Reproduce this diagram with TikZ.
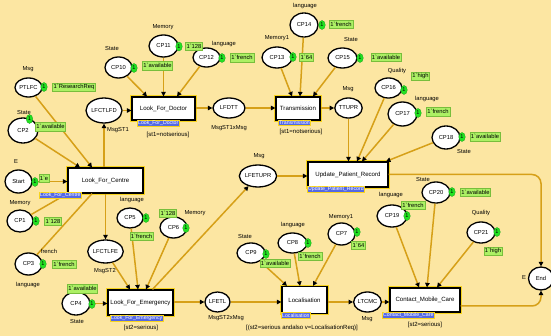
\documentclass[tikz,border=0pt]{standalone}
\usepackage{fontspec}
\setmainfont{Liberation Sans}
\usetikzlibrary{shapes.geometric,arrows.meta}
\definecolor{bgc}{RGB}{252,230,162}
\definecolor{arcc}{RGB}{214,160,24}
\definecolor{hlc}{RGB}{248,212,30}
\definecolor{tagc}{RGB}{84,104,228}
\definecolor{tokc}{RGB}{34,226,34}
\definecolor{tokboxc}{RGB}{172,240,100}
\definecolor{tokboxd}{RGB}{120,190,60}
\newcommand\cpnq{\textasciigrave}
\tikzset{
  place/.style={ellipse, draw=black, line width=1.3pt, fill=white, inner sep=0pt,
    font=\fontsize{5.8}{6.5}\selectfont},
  trans/.style={rectangle, preaction={draw=hlc, line width=3.2pt}, draw=black,
    line width=1.2pt, fill=white, inner sep=0pt, font=\fontsize{6.1}{7}\selectfont},
  tagbox/.style={rectangle, anchor=north west, fill=tagc, draw=hlc, line width=0.9pt,
    inner sep=0.7pt, text=white, font=\fontsize{5.2}{5.8}\selectfont},
  guard/.style={font=\fontsize{6}{7}\selectfont, inner sep=0pt},
  lbl/.style={font=\fontsize{5.8}{6.5}\selectfont, inner sep=0pt},
  tok/.style={ellipse, fill=tokc, draw=tokc!70!black, line width=0.3pt, inner sep=0pt,
    minimum width=6.5pt, minimum height=9pt, font=\fontsize{5.5}{6}\selectfont},
  tokbox/.style={rectangle, fill=tokboxc, draw=tokboxd, line width=0.4pt, inner sep=1.1pt,
    minimum height=8.5pt, font=\fontsize{5.8}{6.5}\selectfont},
  arcline/.style={draw=arcc, line width=1.5pt},
  arr/.style={arcline, -{Triangle[length=4.5pt,width=4.5pt,color=black]}}
}
\begin{document}
\begin{tikzpicture}[x=1pt,y=-1pt]
\path[use as bounding box, fill=bgc] (0,0) rectangle (551,336);

% ---------- transitions ----------
\node[trans, minimum width=63pt, minimum height=23pt] (lfd) at (163.5,108.5) {Look\_For\_Doctor};
\node[trans, minimum width=75pt, minimum height=25pt] (lfc) at (105.5,180.5) {Look\_For\_Centre};
\node[trans, minimum width=44pt, minimum height=23pt] (trn) at (298,108.5) {Transmission};
\node[trans, minimum width=80pt, minimum height=25pt] (upr) at (348,174.5) {Update\_Patient\_Record};
\node[trans, minimum width=65pt, minimum height=25pt] (lfe) at (140.5,302.5) {Look\_For\_Emergency};
\node[trans, minimum width=45pt, minimum height=27pt] (loc) at (304.5,300) {Localisation};
\node[trans, minimum width=70pt, minimum height=24pt] (cmc) at (425,300) {Contact\_Mobile\_Care};

% ---------- places ----------
\node[place, minimum width=27pt, minimum height=19pt] (ptlfc) at (28.5,87.5) {PTLFC};
\node[place, minimum width=30pt, minimum height=25pt] (cp2) at (23,130.5) {CP2};
\node[place, minimum width=27pt, minimum height=21pt] (cp10) at (118.5,67.5) {CP10};
\node[place, minimum width=29pt, minimum height=22pt] (cp11) at (163.5,46) {CP11};
\node[place, minimum width=27pt, minimum height=19pt] (cp12) at (206.5,57.5) {CP12};
\node[place, minimum width=26pt, minimum height=25pt] (lfctlfd) at (104,110.5) {LFCTLFD};
\node[place, minimum width=32pt, minimum height=20pt] (lfdtt) at (229,108) {LFDTT};
\node[place, minimum width=30pt, minimum height=21pt] (cp13) at (277,57.5) {CP13};
\node[place, minimum width=28pt, minimum height=24pt] (cp14) at (304,25) {CP14};
\node[place, minimum width=29pt, minimum height=20pt] (cp15) at (342.5,58) {CP15};
\node[place, minimum width=27pt, minimum height=20pt] (ttupr) at (348.5,108) {TTUPR};
\node[place, minimum width=27pt, minimum height=20pt] (cp16) at (388.5,88) {CP16};
\node[place, minimum width=29pt, minimum height=24pt] (cp17) at (402.5,114) {CP17};
\node[place, minimum width=28pt, minimum height=23pt] (cp18) at (446,137.5) {CP18};
\node[place, minimum width=28pt, minimum height=22pt] (lfetupr) at (258,176) {LFETUPR};
\node[place, minimum width=27pt, minimum height=23pt] (start) at (18.5,181.5) {Start};
\node[place, minimum width=26pt, minimum height=22pt] (cp1) at (20,221) {CP1};
\node[place, minimum width=27pt, minimum height=22pt] (cp3) at (28.5,264) {CP3};
\node[place, minimum width=26pt, minimum height=20pt] (cp5) at (130,218) {CP5};
\node[place, minimum width=27pt, minimum height=21pt] (cp6) at (173.5,227.5) {CP6};
\node[place, minimum width=29pt, minimum height=23pt] (lfctlfe) at (105.5,251.5) {LFCTLFE};
\node[place, minimum width=28pt, minimum height=23pt] (cp4) at (76,303.5) {CP4};
\node[place, minimum width=25pt, minimum height=20pt] (lfetl) at (217.5,302) {LFETL};
\node[place, minimum width=28pt, minimum height=20pt] (cp9) at (251,253) {CP9};
\node[place, minimum width=29pt, minimum height=20pt] (cp8) at (292.5,243) {CP8};
\node[place, minimum width=27pt, minimum height=22pt] (cp7) at (341.5,234) {CP7};
\node[place, minimum width=25pt, minimum height=20pt] (ltcmc) at (367.5,302) {LTCMC};
\node[place, minimum width=30pt, minimum height=22pt] (cp19) at (392,216) {CP19};
\node[place, minimum width=28pt, minimum height=21pt] (cp20) at (436,192.5) {CP20};
\node[place, minimum width=28pt, minimum height=21pt] (cp21) at (481,232.5) {CP21};
\node[place, minimum width=25pt, minimum height=23pt] (endp) at (541,278.5) {End};

% ---------- arcs ----------
\draw[arr] (ptlfc) -- ([xshift=-13.5pt]lfc.north);
\draw[arr] (cp2) -- ([xshift=-25.5pt]lfc.north);
\draw[arr] (start) -- (lfc.west |- start);
\draw[arcline] (cp1) -- (lfc.south west);
\draw[arcline] (cp3) -- ([xshift=-13.5pt]lfc.south);
\draw[arr] (lfctlfd |- lfc.north) -- (lfctlfd.south);
\draw[arr] (lfctlfe |- lfc.south) -- (lfctlfe.north);
\draw[arr] (lfctlfd) -- (lfd.west |- lfctlfd);
\draw[arr] (cp10) -- ([xshift=-16.5pt]lfd.north);
\draw[arr] (cp11) -- (cp11 |- lfd.north);
\draw[arr] (cp12) -- ([xshift=13.5pt]lfd.north);
\draw[arr] (lfd.east |- lfdtt) -- (lfdtt);
\draw[arr] (lfdtt) -- (trn.west |- lfdtt);
\draw[arr] (cp13) -- ([xshift=-6pt]trn.north);
\draw[arr] (cp14) -- ([xshift=2pt]trn.north);
\draw[arr] (cp15) -- ([xshift=15pt]trn.north);
\draw[arr] (trn.east |- ttupr) -- (ttupr);
\draw[arr] (ttupr) -- (ttupr |- upr.north);
\draw[arr] (cp16) -- ([xshift=9pt]upr.north);
\draw[arr] (cp17) -- ([xshift=14pt]upr.north);
\draw[arr] (cp18) -- ([xshift=38pt]upr.north);
\draw[arr] (lfetupr) -- (upr.west |- lfetupr);
\draw[arr] ([xshift=12pt]lfe.north) -- (lfetupr);
\draw[arr] (lfctlfe) -- ([xshift=-10.5pt]lfe.north);
\draw[arr] (cp5) -- ([xshift=-2.5pt]lfe.north);
\draw[arr] (cp6) -- ([xshift=5.5pt]lfe.north);
\draw[arr] (cp4) -- (lfe.west |- cp4);
\draw[arr] (lfe.east |- lfetl) -- (lfetl);
\draw[arr] (lfetl) -- (loc.west |- lfetl);
\draw[arr] (cp9) -- ([xshift=-17.5pt]loc.north);
\draw[arr] (cp8) -- ([xshift=-4.5pt]loc.north);
\draw[arr] (cp7) -- ([xshift=8.5pt]loc.north);
\draw[arr] (loc.east |- ltcmc) -- (ltcmc);
\draw[arr] (ltcmc) -- (cmc.west |- ltcmc);
\draw[arr] (cp19) -- ([xshift=-6pt]cmc.north);
\draw[arr] (cp20) -- ([xshift=2pt]cmc.north);
\draw[arr] (cp21) -- ([xshift=12pt]cmc.north);
\draw[arr, rounded corners=9pt] (upr.east) -| (endp.north);
\draw[arr, rounded corners=9pt] ([yshift=-6pt]cmc.east) -| (endp.south);

% ---------- transition tags ----------
\node[tagbox] (tlfc) at (39,192) {Look\_For\_Centre};
\node[tagbox] (tlfd) at (137,120) {Look\_For\_Doctor};
\node[tagbox] (ttrn) at (278,120) {Transmission};
\node[tagbox] (tupr) at (307,186) {Update\_Patient\_Record};
\node[tagbox] (tlfe) at (110,315) {Look\_For\_Emergency};
\node[tagbox] (tloc) at (281,312.5) {Localisation};
\node[tagbox] (tcmc) at (382,312) {Contact\_Mobile\_Care};

% ---------- guards ----------
\node[guard] (glfd) at (168,135) {[st1=notserious]};
\node[guard] (gtrn) at (301,132) {[st1=notserious]};
\node[guard] (glfe) at (141,328) {[st2=serious]};
\node[guard] (gloc) at (302,328) {[(st2=serious andalso v=LocalisationReq)]};
\node[guard] (gcmc) at (425,325) {[st2=serious]};

% ---------- colour-set labels ----------
\node[lbl] (l1) at (28,69) {Msg};
\node[lbl] (l2) at (24,113) {State};
\node[lbl] (l3) at (112,49) {State};
\node[lbl] (l4) at (163,27) {Memory};
\node[lbl] (l5) at (224,44) {language};
\node[lbl] (l6) at (118,130) {MsgST1};
\node[lbl] (l7) at (229,128) {MsgST1xMsg};
\node[lbl] (l8) at (277,38) {Memory1};
\node[lbl] (l9) at (305,6) {language};
\node[lbl] (l10) at (351,40) {State};
\node[lbl] (l11) at (348,89) {Msg};
\node[lbl] (l12) at (397,71) {Quality};
\node[lbl] (l13) at (427,99) {language};
\node[lbl] (l14) at (464,152) {State};
\node[lbl] (l15) at (259,156) {Msg};
\node[lbl] (l16) at (16,162) {E};
\node[lbl] (l17) at (20,203) {Memory};
\node[lbl] (l18) at (49,251) {french};
\node[lbl] (l19) at (28,285) {language};
\node[lbl] (l20) at (132,200) {language};
\node[lbl] (l21) at (195,213) {Memory};
\node[lbl] (l22) at (105,271) {MsgST2};
\node[lbl] (l23) at (77,322) {State};
\node[lbl] (l24) at (226,318) {MsgST2xMsg};
\node[lbl] (l25) at (245,237) {State};
\node[lbl] (l26) at (293,225) {language};
\node[lbl] (l27) at (341,217) {Memory1};
\node[lbl] (l28) at (367,319) {Msg};
\node[lbl] (l29) at (391,195) {language};
\node[lbl] (l30) at (423,180) {State};
\node[lbl] (l31) at (481,213) {Quality};
\node[lbl] (l32) at (524,278) {E};

% ---------- tokens ----------
\node[tok] (k1) at (44,87) {1};      \node[tokbox] (b1) at (74,87) {1\cpnq ResearchReq};
\node[tok] (k2) at (29.5,119) {1};   \node[tokbox] (b2) at (50.5,126.5) {1\cpnq available};
\node[tok] (k3) at (134,68) {1};     \node[tokbox] (b3) at (157.5,65.5) {1\cpnq available};
\node[tok] (k4) at (179,46.5) {1};   \node[tokbox] (b4) at (194,46) {1\cpnq 128};
\node[tok] (k5) at (222,58) {1};     \node[tokbox] (b5) at (242,57.5) {1\cpnq french};
\node[tok] (k6) at (293,57) {1};     \node[tokbox] (b6) at (306.5,57) {1\cpnq 64};
\node[tok] (k7) at (322,25) {1};     \node[tokbox] (b7) at (341,24) {1\cpnq french};
\node[tok] (k8) at (360,58) {1};     \node[tokbox] (b8) at (386,57) {1\cpnq available};
\node[tok] (k9) at (404,90) {1};     \node[tokbox] (b9) at (420.5,76) {1\cpnq high};
\node[tok] (k10) at (418,113) {1};   \node[tokbox] (b10) at (438,111.5) {1\cpnq french};
\node[tok] (k11) at (462,137) {1};   \node[tokbox] (b11) at (485,136.5) {1\cpnq available};
\node[tok] (k12) at (35,182) {1};    \node[tokbox] (b12) at (44,178) {1\cpnq e};
\node[tok] (k13) at (36,221) {1};    \node[tokbox] (b13) at (53,221) {1\cpnq 128};
\node[tok] (k14) at (43,264) {1};    \node[tokbox] (b14) at (64,264) {1\cpnq french};
\node[tok] (k15) at (146,218) {1};   \node[tokbox] (b15) at (141.5,236) {1\cpnq french};
\node[tok] (k16) at (186,228) {1};   \node[tokbox] (b16) at (168,213) {1\cpnq 128};
\node[tok] (k17) at (92,304) {1};    \node[tokbox] (b17) at (82.5,288.5) {1\cpnq available};
\node[tok] (k18) at (266,254) {1};   \node[tokbox] (b18) at (275,263) {1\cpnq available};
\node[tok] (k19) at (308,243) {1};   \node[tokbox] (b19) at (310,256) {1\cpnq french};
\node[tok] (k20) at (357,232) {1};   \node[tokbox] (b20) at (358.5,245) {1\cpnq 64};
\node[tok] (k21) at (407,216) {1};   \node[tokbox] (b21) at (413,205) {1\cpnq french};
\node[tok] (k22) at (452,192) {1};   \node[tokbox] (b22) at (475.5,192) {1\cpnq available};
\node[tok] (k23) at (497,232) {1};   \node[tokbox] (b23) at (493,251) {1\cpnq high};
\end{tikzpicture}
\end{document}
